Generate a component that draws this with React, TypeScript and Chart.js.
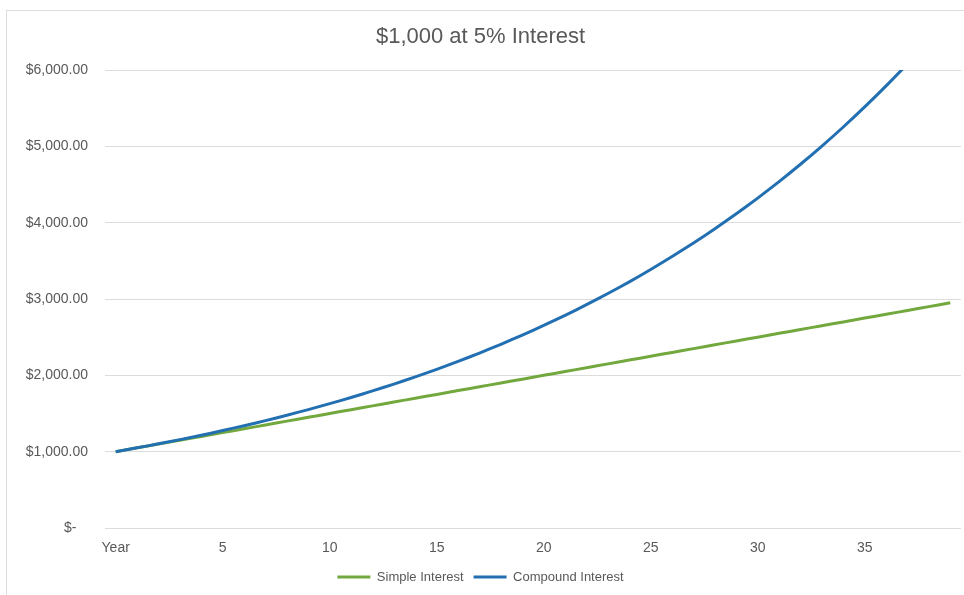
import React, { useEffect, useRef } from "react";
import { Chart, registerables } from "chart.js";

Chart.register(...registerables);

const years: string[] = [
  "Year", "1", "2", "3", "4", "5", "6", "7", "8", "9",
  "10", "11", "12", "13", "14", "15", "16", "17", "18", "19",
  "20", "21", "22", "23", "24", "25", "26", "27", "28", "29",
  "30", "31", "32", "33", "34", "35", "36", "37", "38", "39",
];

const simpleInterest: number[] = [
  1000, 1050, 1100, 1150, 1200, 1250, 1300, 1350, 1400, 1450,
  1500, 1550, 1600, 1650, 1700, 1750, 1800, 1850, 1900, 1950,
  2000, 2050, 2100, 2150, 2200, 2250, 2300, 2350, 2400, 2450,
  2500, 2550, 2600, 2650, 2700, 2750, 2800, 2850, 2900, 2950,
];

const compoundInterest: number[] = [
  1000.0, 1050.0, 1102.5, 1157.63, 1215.51, 1276.28, 1340.1, 1407.1, 1477.46, 1551.33,
  1628.89, 1710.34, 1795.86, 1885.65, 1979.93, 2078.93, 2182.87, 2292.02, 2406.62, 2526.95,
  2653.3, 2785.96, 2925.26, 3071.52, 3225.1, 3386.35, 3555.67, 3733.46, 3920.13, 4116.14,
  4321.94, 4538.04, 4764.94, 5003.19, 5253.35, 5516.02, 5791.82, 6081.41, 6385.48, 6704.75,
];

const seriesNames: string[] = ["Simple Interest", "Compound Interest"];
const chartTitle = "$1,000 at 5% Interest";

const FONT = "'Liberation Sans', Arial, Helvetica, sans-serif";
const TEXT = "#595959";

export default function App() {
  const ref = useRef<HTMLCanvasElement | null>(null);

  useEffect(() => {
    if (!ref.current) return;
    const chart = new Chart(ref.current, {
      type: "line",
      data: {
        labels: years,
        datasets: [
          {
            label: seriesNames[0],
            data: simpleInterest,
            borderColor: "#72a83e",
            backgroundColor: "#72a83e",
            borderWidth: 3,
            pointRadius: 0,
            tension: 0.2,
            order: 1,
          },
          {
            label: seriesNames[1],
            data: compoundInterest,
            borderColor: "#226fb2",
            backgroundColor: "#226fb2",
            borderWidth: 3,
            pointRadius: 0,
            tension: 0.2,
            order: 0,
          },
        ],
      },
      options: {
        responsive: false,
        animation: false,
        layout: { padding: { left: 0, right: 3, top: 0, bottom: 1.5 } },
        plugins: {
          title: {
            display: true,
            text: chartTitle,
            color: TEXT,
            font: { family: FONT, size: 22, weight: "normal" },
            padding: { top: 24, bottom: 19.6 },
          },
          legend: {
            position: "bottom",
            labels: {
              color: TEXT,
              font: { family: FONT, size: 13 },
              boxWidth: 33,
              boxHeight: 3,
              padding: 10,
              sort: (a: any, b: any) => a.datasetIndex - b.datasetIndex,
              generateLabels: (c: any) =>
                Chart.defaults.plugins.legend.labels
                  .generateLabels(c)
                  .map((it: any) => ({ ...it, lineWidth: 0 })),
            },
          },
          tooltip: { enabled: false },
        },
        scales: {
          x: {
            type: "category",
            offset: true,
            grid: { display: false, drawTicks: false },
            border: { display: false },
            ticks: {
              color: TEXT,
              font: { family: FONT, size: 14 },
              autoSkip: false,
              maxRotation: 0,
              padding: 12,
              callback: (_v: any, i: number) => (i % 5 === 0 ? years[i] : ""),
            },
            afterFit: (s: any) => {
              s.height = 32.5;
            },
          },
          y: {
            min: 0,
            max: 6000,
            grid: { color: "#dcdcdc", lineWidth: 1, drawTicks: false },
            border: { display: false },
            ticks: {
              stepSize: 1000,
              color: TEXT,
              font: { family: FONT, size: 14 },
              padding: 17,
              callback: (v: any) =>
                Number(v) === 0
                  ? "$-   "
                  : "$" +
                    Number(v).toLocaleString("en-US", {
                      minimumFractionDigits: 2,
                      maximumFractionDigits: 2,
                    }),
            },
            afterFit: (s: any) => {
              s.width = 105;
            },
          },
        },
      },
    });
    return () => chart.destroy();
  }, []);

  return (
    <div style={{ position: "fixed", left: 0, top: 0, width: 964, height: 595, background: "#fff" }}>
      <div
        style={{
          position: "absolute",
          left: 6,
          top: 10,
          right: 0,
          bottom: 0,
          borderTop: "1px solid #dedede",
          borderLeft: "1px solid #dedede",
        }}
      />
      <canvas ref={ref} width={964} height={595} style={{ position: "absolute", left: 0, top: 0, display: "block" }} />
    </div>
  );
}
